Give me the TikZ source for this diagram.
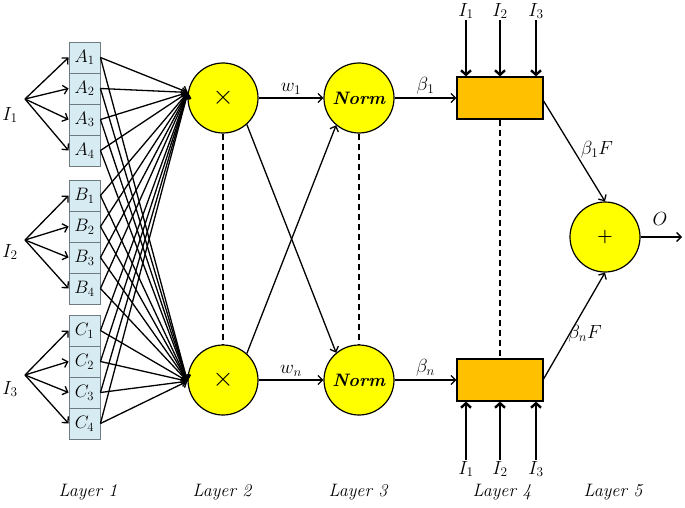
\RequirePackage{fix-cm}
\documentclass[tikz,border=0pt]{standalone}
\usepackage{amsmath}
\usetikzlibrary{arrows.meta}
\definecolor{boxblue}{HTML}{D7EBF2}
\definecolor{boxedge}{HTML}{6E7B80}
\definecolor{circyellow}{HTML}{FFFF00}
\definecolor{boxorange}{HTML}{FFC000}
\tikzset{
  lbox/.style={draw=boxedge, line width=0.9pt, fill=boxblue, minimum width=31pt, minimum height=31pt, inner sep=0pt, font=\fontsize{18}{21}\selectfont},
  yc/.style={circle, draw=black, line width=1.2pt, fill=circyellow, minimum size=70pt, inner sep=0pt, font=\fontsize{18}{21}\selectfont},
  obox/.style={draw=black, line width=1.2pt, fill=boxorange, minimum width=86pt, minimum height=42pt, inner sep=0pt},
  conn/.style={line width=1.3pt, -{Straight Barb[length=4.5pt,width=9pt,line width=1.3pt]}},
  thick arr/.style={line width=2.4pt, -{Straight Barb[length=4.5pt,width=10pt,line width=2.4pt]}},
  lbl/.style={inner sep=1pt, font=\fontsize{19}{22}\selectfont},
  layerlbl/.style={inner sep=1pt, font=\fontsize{18}{21}\selectfont\itshape},
  vdash/.style={line width=1.4pt, dash pattern=on 6pt off 4pt},
}
\begin{document}
\begin{tikzpicture}[x=1pt,y=-1pt]
\useasboundingbox (0,0) rectangle (685,508);
% Layer 1 boxes
\foreach \n/\y in {A1/57.5,A2/88.5,A3/119.5,A4/150.5,B1/195.5,B2/226.5,B3/257.5,B4/288.5,C1/330.5,C2/361.5,C3/392.5,C4/423.5}{
  \node[lbox] (\n) at (84.5,\y) {};
}
\node[lbox,draw=none,fill=none] at (A1) {$A_1$};
\node[lbox,draw=none,fill=none] at (A2) {$A_2$};
\node[lbox,draw=none,fill=none] at (A3) {$A_3$};
\node[lbox,draw=none,fill=none] at (A4) {$A_4$};
\node[lbox,draw=none,fill=none] at (B1) {$B_1$};
\node[lbox,draw=none,fill=none] at (B2) {$B_2$};
\node[lbox,draw=none,fill=none] at (B3) {$B_3$};
\node[lbox,draw=none,fill=none] at (B4) {$B_4$};
\node[lbox,draw=none,fill=none] at (C1) {$C_1$};
\node[lbox,draw=none,fill=none] at (C2) {$C_2$};
\node[lbox,draw=none,fill=none] at (C3) {$C_3$};
\node[lbox,draw=none,fill=none] at (C4) {$C_4$};
% inputs
\node[lbl] (i1) at (10,115) {$I_1$};
\node[lbl] (i2) at (10,252) {$I_2$};
\node[lbl] (i3) at (10,389) {$I_3$};
\coordinate (f1) at (25,99);
\coordinate (f2) at (25,240);
\coordinate (f3) at (25,375);
\foreach \n in {A1,A2,A3,A4} \draw[conn] (f1) -- (\n.west);
\foreach \n in {B1,B2,B3,B4} \draw[conn] (f2) -- (\n.west);
\foreach \n in {C1,C2,C3,C4} \draw[conn] (f3) -- (\n.west);
% Layer 2
\node[yc] (p1) at (223,98) {\scalebox{1.5}{$\times$}};
\node[yc] (pn) at (223,380) {\scalebox{1.5}{$\times$}};
% Layer 3
\node[yc] (n1) at (359,98) {\textbf{\textit{Norm}}};
\node[yc] (nn) at (359,380) {\textbf{\textit{Norm}}};
% Layer 1 -> Layer 2
\foreach \n in {A1,A2,A3,A4,B1,B2,B3,B4,C1,C2,C3,C4}{
  \draw[conn] (\n.east) -- (p1.171);
  \draw[conn] (\n.east) -- (pn.182);
}
% dashed verticals
\draw[vdash] (p1.south) -- (pn.north);
\draw[vdash] (n1.south) -- (nn.north);
% Layer 2 -> Layer 3
\draw[conn] (p1.east) -- node[lbl, above=2pt] {$w_1$} (n1.west);
\draw[conn] (pn.east) -- node[lbl, above=2pt] {$w_n$} (nn.west);
\draw[conn] (p1.-48) -- (nn.130);
\draw[conn] (pn.48) -- (n1.-130);
% Layer 4
\node[obox] (r1) at (500,98) {};
\node[obox] (rn) at (500,380) {};
\draw[conn] (n1.east) -- node[lbl, above=2pt] {$\beta_1$} (r1.west);
\draw[conn] (nn.east) -- node[lbl, above=2pt] {$\beta_n$} (rn.west);
\draw[vdash] (r1.south) -- (rn.north);
\node[lbl] (t1) at (466,11) {$I_1$};
\node[lbl] (t2) at (500,11) {$I_2$};
\node[lbl] (t3) at (536,11) {$I_3$};
\foreach \t in {t1,t2,t3} \draw[thick arr] (\t.south) -- (\t.south |- r1.north);
\node[lbl] (b1) at (466,469) {$I_1$};
\node[lbl] (b2) at (500,469) {$I_2$};
\node[lbl] (b3) at (536,469) {$I_3$};
\foreach \t in {b1,b2,b3} \draw[thick arr] (\t.north) -- (\t.north |- rn.south);
% Layer 5
\node[yc] (s) at (605,237) {\textbf{+}};
\coordinate (r1o) at (543,100);
\coordinate (rno) at (543,380);
\draw[conn] (r1o) -- (s.north);
\draw[conn] (rno) -- (s.south);
\node[lbl] (l1) at (597,150) {$\beta_1F$};
\node[lbl] (ln) at (585,334) {$\beta_nF$};
\coordinate (out) at (682,237);
\draw[conn] (s.east) -- (out);
\node[lbl] (o) at (660,219) {$O$};
% layer labels
\node[layerlbl] at (88,492) {Layer 1};
\node[layerlbl] at (222,492) {Layer 2};
\node[layerlbl] at (358,492) {Layer 3};
\node[layerlbl] at (502,492) {Layer 4};
\node[layerlbl] at (613,492) {Layer 5};
\end{tikzpicture}
\end{document}
